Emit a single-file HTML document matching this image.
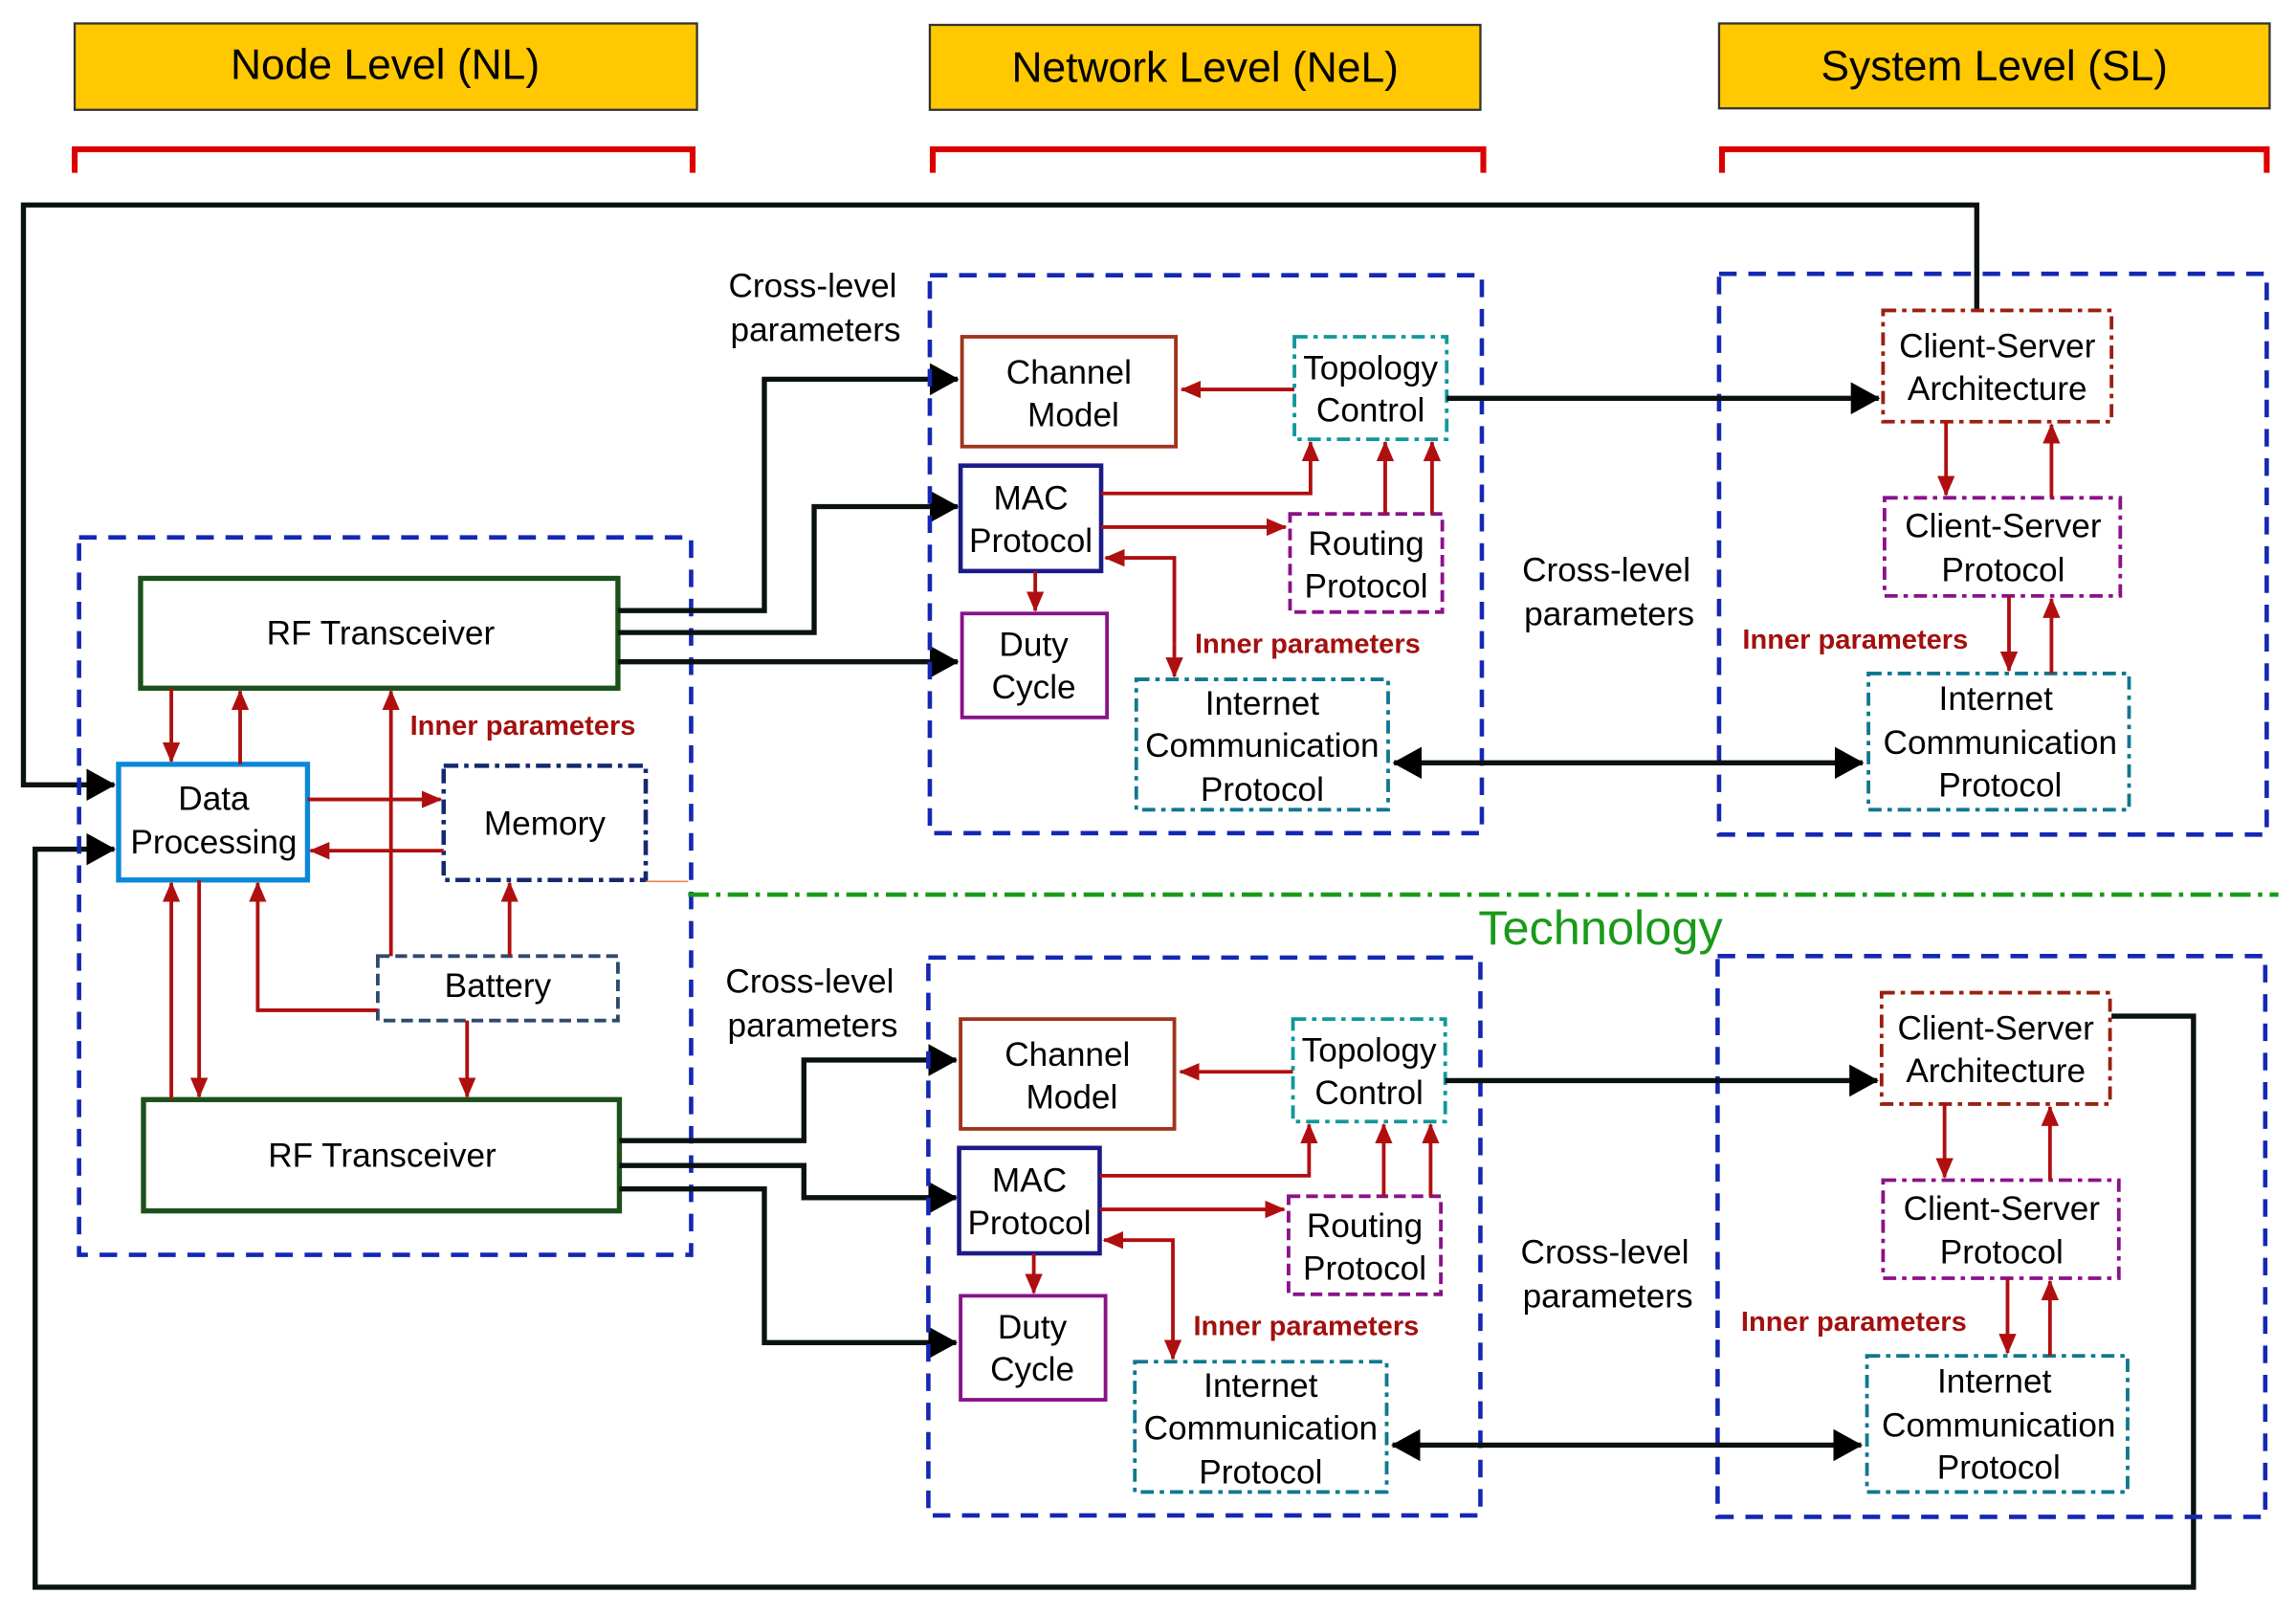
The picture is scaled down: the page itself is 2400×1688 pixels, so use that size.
<!DOCTYPE html>
<html><head><meta charset="utf-8"><style>
html,body{margin:0;padding:0;background:#fff}
svg{display:block}
text{font-family:"Liberation Sans Narrow","Liberation Sans",sans-serif;fill:#000}
.b{font-size:23px;text-anchor:middle}
.h{font-size:29px;text-anchor:middle;font-family:"Liberation Sans",sans-serif}
.ip{font-size:19px;font-weight:bold;fill:#a3100f}
.k{fill:none;stroke:#0a1210;stroke-width:3.5}
.r{fill:none;stroke:#b00f0f;stroke-width:2.5}
</style></head><body>
<svg width="2400" height="1688" viewBox="0 0 1568 1103" preserveAspectRatio="none" xmlns="http://www.w3.org/2000/svg">
<defs>
<marker id="kb" markerWidth="20" markerHeight="22" refX="19" refY="11" orient="auto-start-reverse" markerUnits="userSpaceOnUse" viewBox="0 0 20 22"><path d="M0,0L20,11L0,22z" fill="#000"/></marker>
<marker id="ra" markerWidth="14" markerHeight="13" refX="13" refY="6.5" orient="auto" markerUnits="userSpaceOnUse" viewBox="0 0 14 13"><path d="M0,0.5L14,6.5L0,12.5z" fill="#b00f0f"/></marker>
</defs>
<rect x="51" y="16" width="425" height="59" fill="#ffc800" stroke="#333" stroke-width="1.5"/>
<text class="h" x="263" y="54">Node Level (NL)</text>
<rect x="635" y="17" width="376" height="58" fill="#ffc800" stroke="#333" stroke-width="1.5"/>
<text class="h" x="823" y="56">Network Level (NeL)</text>
<rect x="1174" y="16" width="376" height="58" fill="#ffc800" stroke="#333" stroke-width="1.5"/>
<text class="h" x="1362" y="55">System Level (SL)</text>
<g fill="none" stroke="#d00" stroke-width="4">
<path d="M51,118V102H473V118"/><path d="M637,118V102H1013V118"/><path d="M1176,118V102H1548V118"/>
</g>
<path class="k" d="M1350,212V140H16V536H78" marker-end="url(#kb)"/>
<path class="k" d="M1442,694H1498V1084H24V580H78" marker-end="url(#kb)"/>
<rect x="54" y="367" width="418" height="490" fill="none" stroke="#1428b4" stroke-width="3" stroke-dasharray="12,8"/>
<rect x="96" y="395" width="326" height="75" fill="#fff" stroke="#1c501c" stroke-width="3.5"/>
<text class="b" x="260" y="440">RF Transceiver</text>
<rect x="81" y="522" width="129" height="79" fill="#fff" stroke="#0a88d8" stroke-width="3.5"/>
<text class="b" x="146" y="553">Data</text><text class="b" x="146" y="583">Processing</text>
<rect x="303" y="523" width="138" height="78" fill="#fff" stroke="#14286e" stroke-width="3" stroke-dasharray="10,4,3,4"/>
<text class="b" x="372" y="570">Memory</text>
<rect x="258" y="653" width="164" height="44" fill="#fff" stroke="#2d4a6e" stroke-width="2.5" stroke-dasharray="8,4"/>
<text class="b" x="340" y="681">Battery</text>
<rect x="98" y="751" width="325" height="76" fill="#fff" stroke="#1c501c" stroke-width="3.5"/>
<text class="b" x="261" y="797">RF Transceiver</text>
<text class="ip" x="280" y="502">Inner parameters</text>
<line x1="441" y1="602" x2="470" y2="602" stroke="#e88040" stroke-width="1"/>
<g class="r">
<path d="M117,470V520" marker-end="url(#ra)"/>
<path d="M164,522V472" marker-end="url(#ra)"/>
<path d="M267,653V472" marker-end="url(#ra)"/>
<path d="M210,546H301" marker-end="url(#ra)"/>
<path d="M303,581H212" marker-end="url(#ra)"/>
<path d="M348,653V603" marker-end="url(#ra)"/>
<path d="M258,690H176V603" marker-end="url(#ra)"/>
<path d="M319,697V749" marker-end="url(#ra)"/>
<path d="M117,751V603" marker-end="url(#ra)"/>
<path d="M136,601V749" marker-end="url(#ra)"/>
</g>
<line x1="470" y1="611" x2="1556" y2="611" stroke="#1a9a1a" stroke-width="3" stroke-dasharray="14,5,3,5"/>
<text x="1093" y="645" style="font-size:33px;fill:#1a9a1a;text-anchor:middle">Technology</text>
<text class="b" x="555" y="203">Cross-level</text><text class="b" x="557" y="233">parameters</text>
<path class="k" d="M422,417H522V259H654" marker-end="url(#kb)"/>
<path class="k" d="M422,432H556V346H654" marker-end="url(#kb)"/>
<path class="k" d="M422,452H654" marker-end="url(#kb)"/>
<text class="b" x="553" y="678">Cross-level</text><text class="b" x="555" y="708">parameters</text>
<path class="k" d="M423,779H549V724H653" marker-end="url(#kb)"/>
<path class="k" d="M423,796H549V818H653" marker-end="url(#kb)"/>
<path class="k" d="M423,812H522V917H653" marker-end="url(#kb)"/>
<g id="sec">
<rect x="635" y="188" width="377" height="381" fill="none" stroke="#1428b4" stroke-width="3" stroke-dasharray="12,8"/>
<rect x="1174" y="187" width="374" height="383" fill="none" stroke="#1428b4" stroke-width="3" stroke-dasharray="12,8"/>
<rect x="657" y="230" width="146" height="75" fill="#fff" stroke="#a0341c" stroke-width="2.5"/>
<text class="b" x="730" y="262">Channel</text><text class="b" x="733" y="291">Model</text>
<rect x="884" y="230" width="104" height="70" fill="#fff" stroke="#10989a" stroke-width="2.5" stroke-dasharray="9,4,3,4"/>
<text class="b" x="936" y="259">Topology</text><text class="b" x="936" y="288">Control</text>
<rect x="656" y="318" width="96" height="72" fill="#fff" stroke="#1a1a88" stroke-width="3"/>
<text class="b" x="704" y="348">MAC</text><text class="b" x="704" y="377">Protocol</text>
<rect x="881" y="351" width="104" height="67" fill="#fff" stroke="#8a128a" stroke-width="2.5" stroke-dasharray="8,4"/>
<text class="b" x="933" y="379">Routing</text><text class="b" x="933" y="408">Protocol</text>
<rect x="657" y="419" width="99" height="71" fill="#fff" stroke="#8a128a" stroke-width="2.5"/>
<text class="b" x="706" y="448">Duty</text><text class="b" x="706" y="477">Cycle</text>
<rect x="776" y="464" width="172" height="89" fill="#fff" stroke="#107890" stroke-width="2.5" stroke-dasharray="9,4,3,4"/>
<text class="b" x="862" y="488">Internet</text><text class="b" x="862" y="517">Communication</text><text class="b" x="862" y="547">Protocol</text>
<text class="ip" x="816" y="446">Inner parameters</text>
<g class="r">
<path d="M884,266H807" marker-end="url(#ra)"/>
<path d="M752,337H895V302" marker-end="url(#ra)"/>
<path d="M752,360H878" marker-end="url(#ra)"/>
<path d="M946,351V302" marker-end="url(#ra)"/>
<path d="M978,351V302" marker-end="url(#ra)"/>
<path d="M707,390V417" marker-end="url(#ra)"/>
<path d="M802,440V381H755" marker-end="url(#ra)"/>
<path d="M802,440V462" marker-end="url(#ra)"/>
</g>
<path class="k" d="M988,272H1283" marker-end="url(#kb)"/>
<path class="k" d="M952,521H1272" marker-start="url(#kb)" marker-end="url(#kb)"/>
<text class="b" x="1097" y="397">Cross-level</text><text class="b" x="1099" y="427">parameters</text>
<rect x="1286" y="212" width="156" height="76" fill="#fff" stroke="#9a2010" stroke-width="2.5" stroke-dasharray="9,4,3,4"/>
<text class="b" x="1364" y="244">Client-Server</text><text class="b" x="1364" y="273">Architecture</text>
<rect x="1287" y="340" width="161" height="67" fill="#fff" stroke="#8a128a" stroke-width="2.5" stroke-dasharray="9,4,3,4"/>
<text class="b" x="1368" y="367">Client-Server</text><text class="b" x="1368" y="397">Protocol</text>
<rect x="1276" y="460" width="178" height="93" fill="#fff" stroke="#107890" stroke-width="2.5" stroke-dasharray="9,4,3,4"/>
<text class="b" x="1363" y="485">Internet</text><text class="b" x="1366" y="515">Communication</text><text class="b" x="1366" y="544">Protocol</text>
<text class="ip" x="1190" y="443">Inner parameters</text>
<g class="r">
<path d="M1329,288V338" marker-end="url(#ra)"/>
<path d="M1401,340V290" marker-end="url(#ra)"/>
<path d="M1372,407V458" marker-end="url(#ra)"/>
<path d="M1401,460V409" marker-end="url(#ra)"/>
</g>
</g>
<use href="#sec" transform="translate(-1,466)"/>
</svg>
</body></html>
